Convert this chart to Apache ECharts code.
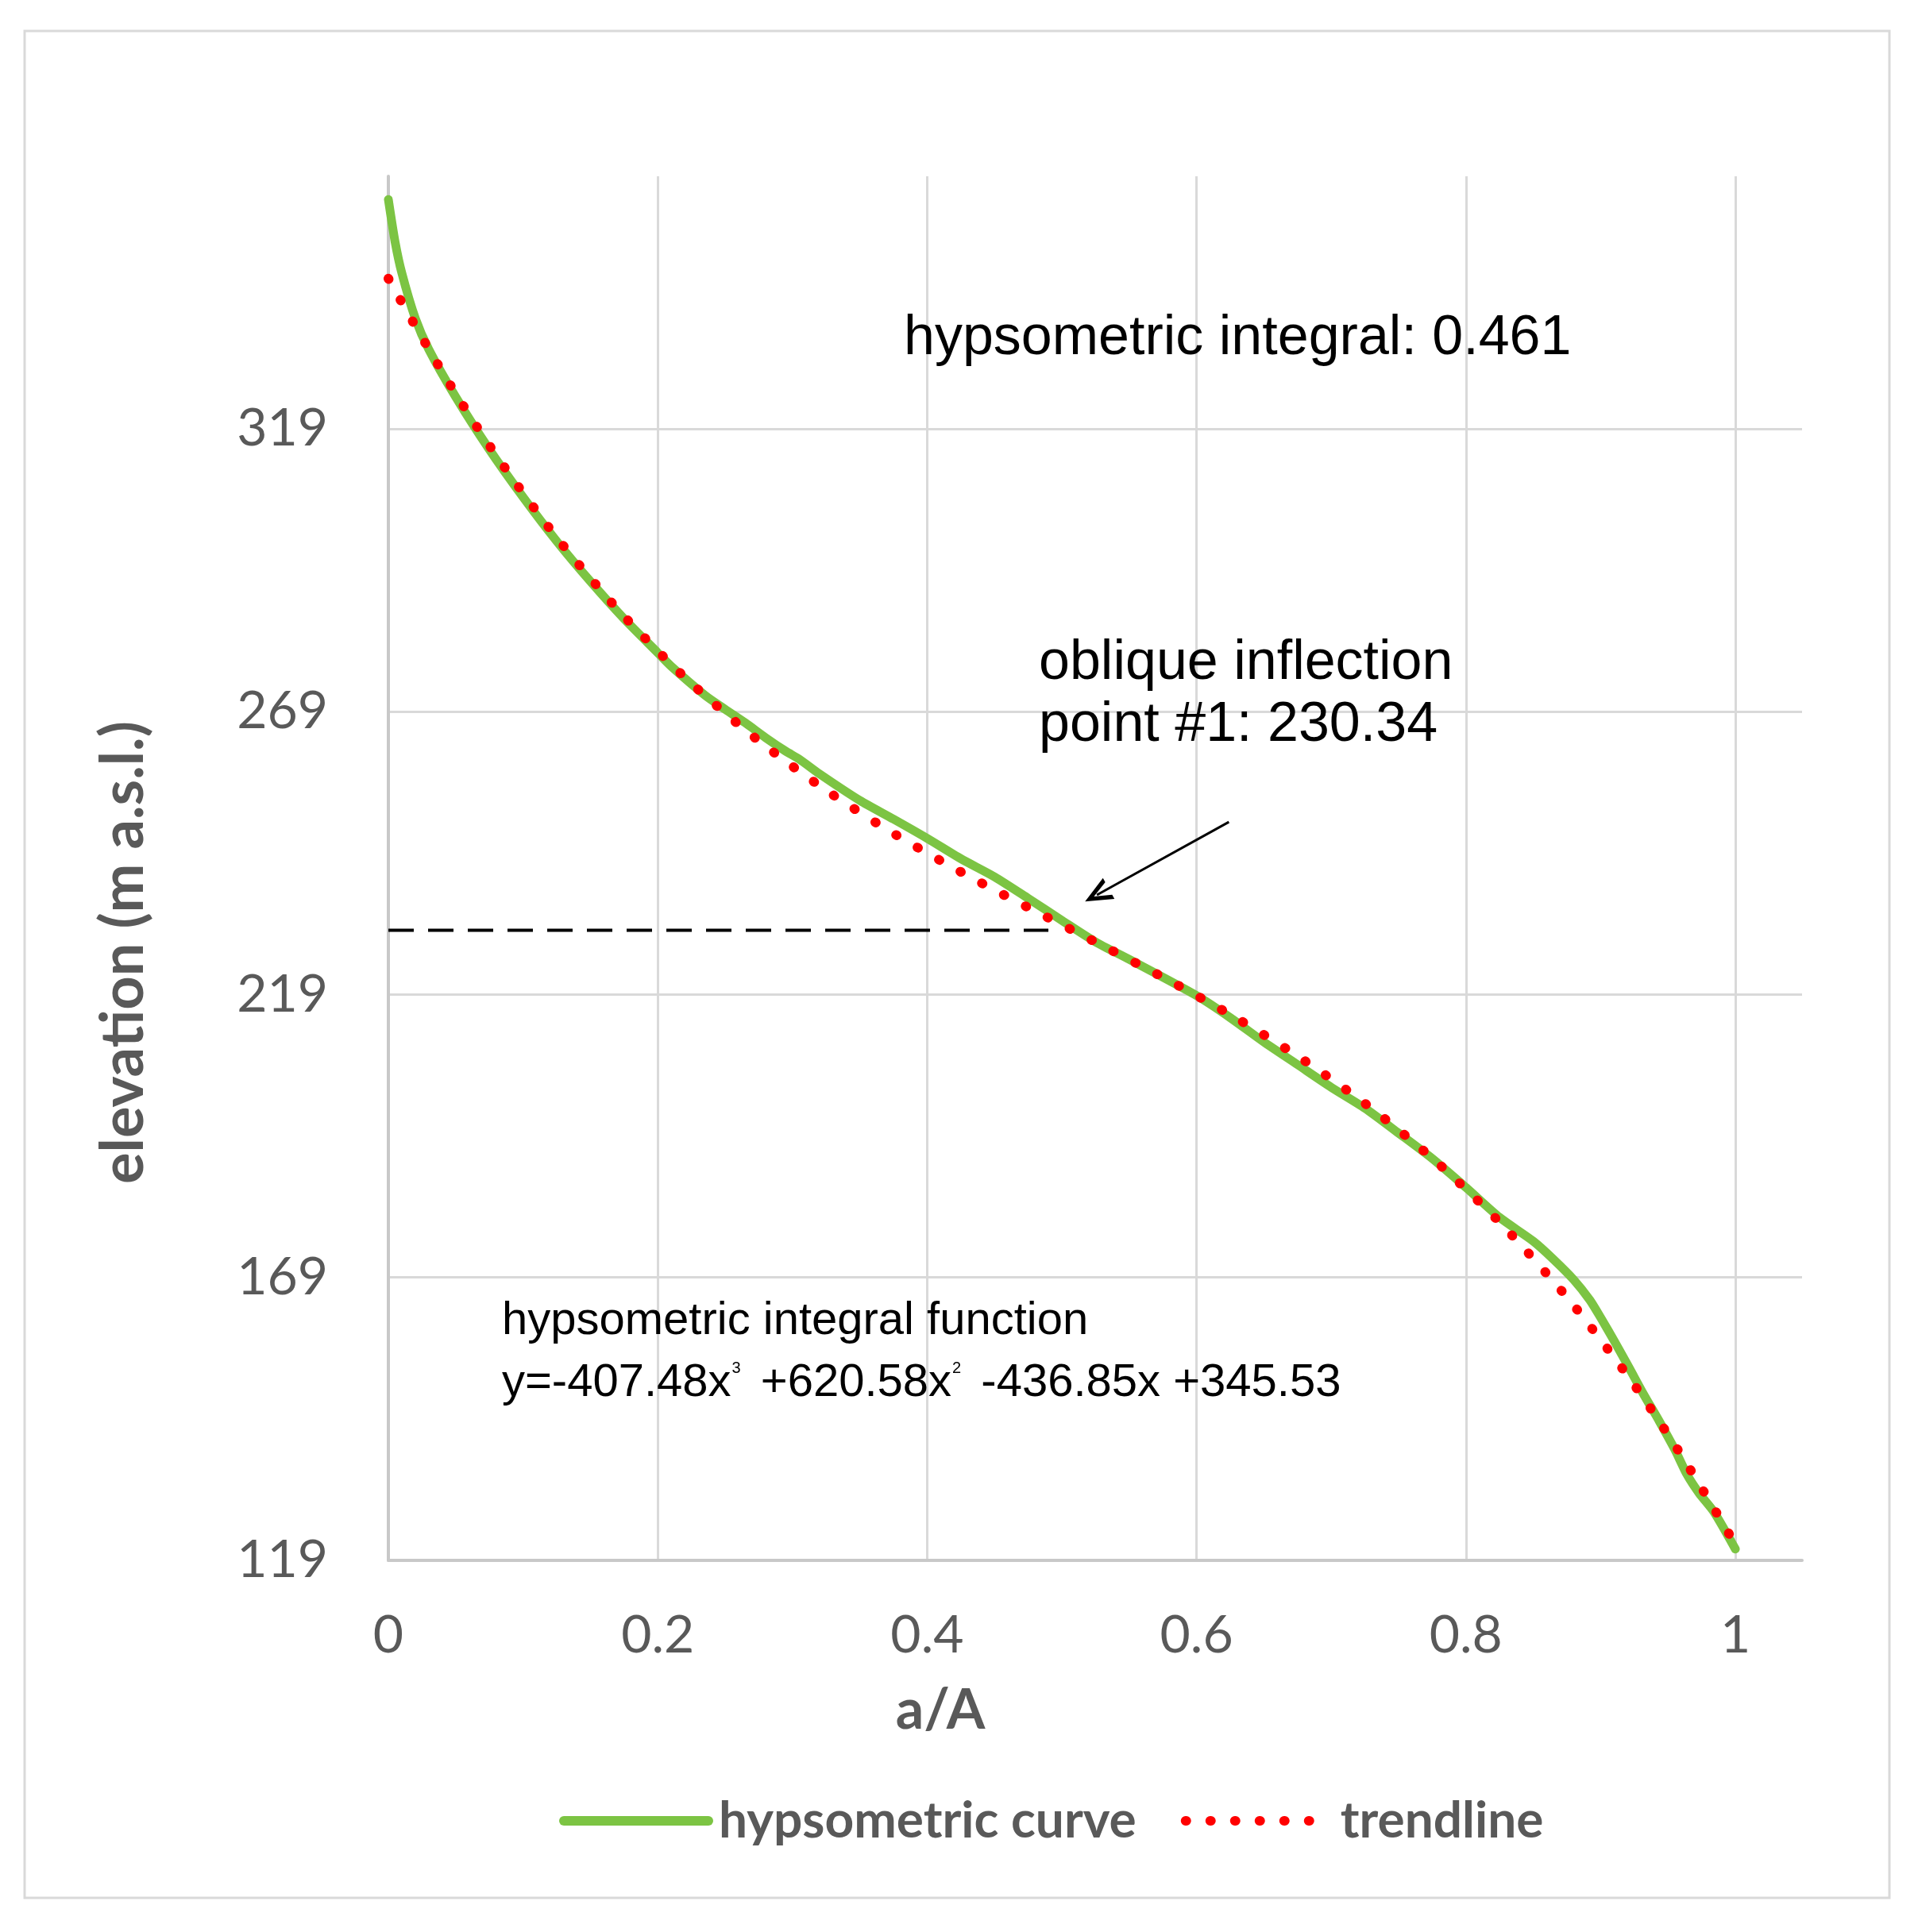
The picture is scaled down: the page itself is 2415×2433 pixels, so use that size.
<!DOCTYPE html>
<html>
<head>
<meta charset="utf-8">
<script src="https://cdn.jsdelivr.net/npm/echarts@6/dist/echarts.min.js"></script>
<style>
html,body{margin:0;padding:0;background:#fff;}
#chart{width:2415px;height:2433px;}
</style>
</head>
<body>
<div id="chart"></div>
<script>
// ---- data ----
const curveX = [0, 0.005, 0.01, 0.02, 0.03, 0.05, 0.075, 0.1, 0.125, 0.15, 0.175, 0.2, 0.21, 0.235, 0.25, 0.265, 0.28, 0.295, 0.305, 0.32, 0.35, 0.375, 0.4, 0.425, 0.45, 0.475, 0.5, 0.525, 0.55, 0.6, 0.625, 0.65, 0.675, 0.7, 0.725, 0.75, 0.775, 0.8, 0.825, 0.85, 0.865, 0.88, 0.892, 0.9, 0.91, 0.921, 0.932, 0.9435, 0.955, 0.964, 0.973, 0.984, 1.0];
const curveY = [359.5, 352, 346.5, 338.5, 333, 324.6, 315.3, 306.9, 299.1, 292.0, 285.4, 279.4, 277.0, 271.9, 269.4, 267.0, 264.4, 262.0, 260.6, 258.0, 253.3, 250.0, 246.6, 243.0, 239.8, 236.0, 232.1, 228.3, 225.2, 218.8, 214.9, 210.6, 206.6, 202.6, 198.9, 194.5, 190.0, 184.9, 179.6, 175.4, 172.2, 168.6, 165.0, 161.9, 157.8, 153.1, 148.3, 143.6, 138.6, 134.2, 130.9, 127.6, 121.0];
const trendX = [0, 0.05, 0.1, 0.15, 0.2, 0.25, 0.3, 0.35, 0.4, 0.45, 0.5, 0.55, 0.6, 0.65, 0.7, 0.75, 0.8, 0.85, 0.9, 0.95, 1.0];
const trendY = [345.53, 325.19, 307.64, 292.59, 279.72, 268.74, 259.33, 251.18, 244.00, 237.48, 231.32, 225.19, 218.81, 211.87, 204.05, 195.06, 184.59, 172.33, 157.98, 141.23, 121.78];
const inflectionX = [0, 0.49];
const inflectionY = [230.34, 230.34];
const arrowFrom = [0.624, 249.5];
const arrowTo = [0.526, 236.6];
const yTicks = [119, 169, 219, 269, 319];
const xTicks = [0, 0.2, 0.4, 0.6, 0.8, 1];
const seriesNames = ['hypsometric curve', 'trendline'];
const texts = {
  integral: 'hypsometric integral: 0.461',
  inflection1: 'oblique inflection',
  inflection2: 'point #1: 230.34',
  func1: 'hypsometric integral function',
  func2: '{n|y=-407.48x}{s|3}{n| +620.58x}{s|2}{n| -436.85x +345.53}'
};

const zip = (xs, ys) => xs.map((x, i) => [x, ys[i]]);

const chart = echarts.init(document.getElementById('chart'), null, {renderer: 'canvas'});
const gray = '#595959';
const option = {
  backgroundColor: '#ffffff',
  animation: false,
  grid: {left: 489, right: 146, top: 222, bottom: 468, containLabel: false},
  xAxis: {
    type: 'value', min: 0, max: 1.0495, interval: 0.2,
    name: 'a/A', nameLocation: 'middle', nameGap: 154,
    nameTextStyle: {fontFamily: 'Lato', fontWeight: 'bold', fontSize: 70, color: gray, padding: [0, 390, 0, 0]},
    axisLine: {show: true, lineStyle: {color: '#c8c8c8', width: 4}},
    axisTick: {show: false},
    axisLabel: {
      fontFamily: 'Lato', fontSize: 66, color: gray, margin: 62, showMaxLabel: false,
      formatter: v => (xTicks.some(t => Math.abs(t - v) < 1e-6) ? String(+v.toFixed(1)) : '')
    },
    splitLine: {show: true, showMaxLine: false, lineStyle: {color: '#d9d9d9', width: 3}}
  },
  yAxis: {
    type: 'value', min: 119, max: 363.6, interval: 50,
    name: 'elevation (m a.s.l.)', nameLocation: 'middle', nameGap: 296,
    nameTextStyle: {fontFamily: 'Lato', fontWeight: 'bold', fontSize: 74, color: gray, padding: [0, 212, 0, 0]},
    axisLine: {show: true, lineStyle: {color: '#c8c8c8', width: 4}},
    axisTick: {show: false},
    axisLabel: {
      fontFamily: 'Lato', fontSize: 66, color: gray, margin: 76, showMaxLabel: false,
      formatter: v => (yTicks.indexOf(Math.round(v)) >= 0 && Math.abs(v - Math.round(v)) < 1e-6 ? String(Math.round(v)) : '')
    },
    splitLine: {show: true, showMaxLine: false, lineStyle: {color: '#d9d9d9', width: 3}}
  },
  legend: {
    data: seriesNames,
    left: 699, top: 2256,
    itemWidth: 182, itemHeight: 40, itemGap: 56,
    itemStyle: {opacity: 0},
    lineStyle: {width: 12},
    textStyle: {fontFamily: 'Lato', fontWeight: 'bold', fontSize: 64, color: gray, padding: [0, 0, 0, 8]},
    selectedMode: false
  },
  series: [
    {
      name: seriesNames[0], type: 'line', data: zip(curveX, curveY),
      symbol: 'none', showSymbol: false, smooth: 0.25,
      lineStyle: {color: '#7CC443', width: 11, cap: 'round', join: 'round'},
      itemStyle: {color: '#7CC443'},
      silent: true, z: 2
    },
    {
      name: seriesNames[1], type: 'line', data: zip(trendX, trendY),
      symbol: 'none', showSymbol: false, smooth: 0.4,
      lineStyle: {color: '#FF0000', width: 12, type: [1, 30], cap: 'round'},
      itemStyle: {color: '#FF0000'},
      silent: true, z: 4
    },
    {
      name: 'inflection level', type: 'line', data: zip(inflectionX, inflectionY),
      symbol: 'none', showSymbol: false,
      lineStyle: {color: '#000000', width: 4, type: [32, 18]},
      silent: true, z: 3,
      markLine: {
        silent: true, animation: false,
        symbol: ['none', 'path://M10,0 L20,24 L16,24 L10,9 L4,24 L0,24 Z'],
        symbolSize: [30, 34],
        label: {show: false},
        lineStyle: {color: '#000000', width: 3, type: 'solid'},
        data: [[{coord: arrowFrom}, {coord: arrowTo}]]
      }
    }
  ],
  graphic: [
    {type: 'rect', shape: {x: 31, y: 39, width: 2348, height: 2351}, style: {fill: 'none', stroke: '#d9d9d9', lineWidth: 3}, silent: true, z: -1},
    {type: 'text', x: 1138, y: 427, style: {text: texts.integral, fontFamily: 'Liberation Sans', fontSize: 70, fill: '#000', align: 'left', verticalAlign: 'middle'}, z: 10},
    {type: 'text', x: 1308, y: 836, style: {text: texts.inflection1, fontFamily: 'Liberation Sans', fontSize: 70, fill: '#000', align: 'left', verticalAlign: 'middle'}, z: 10},
    {type: 'text', x: 1308, y: 914, style: {text: texts.inflection2, fontFamily: 'Liberation Sans', fontSize: 70, fill: '#000', align: 'left', verticalAlign: 'middle'}, z: 10},
    {type: 'text', x: 632, y: 1664, style: {text: texts.func1, fontFamily: 'Liberation Sans', fontSize: 58, fill: '#000', align: 'left', verticalAlign: 'middle'}, z: 10},
    {type: 'text', x: 632, y: 1742, style: {
      text: texts.func2, fill: '#000', align: 'left', verticalAlign: 'middle',
      rich: {
        n: {fontFamily: 'Liberation Sans', fontSize: 58, fill: '#000', lineHeight: 66},
        s: {fontFamily: 'Liberation Sans', fontSize: 20, fill: '#000', verticalAlign: 'top', lineHeight: 66, padding: [4, 9, 0, 1]}
      }
    }, z: 10}
  ]
};
chart.setOption(option);
</script>
</body>
</html>
